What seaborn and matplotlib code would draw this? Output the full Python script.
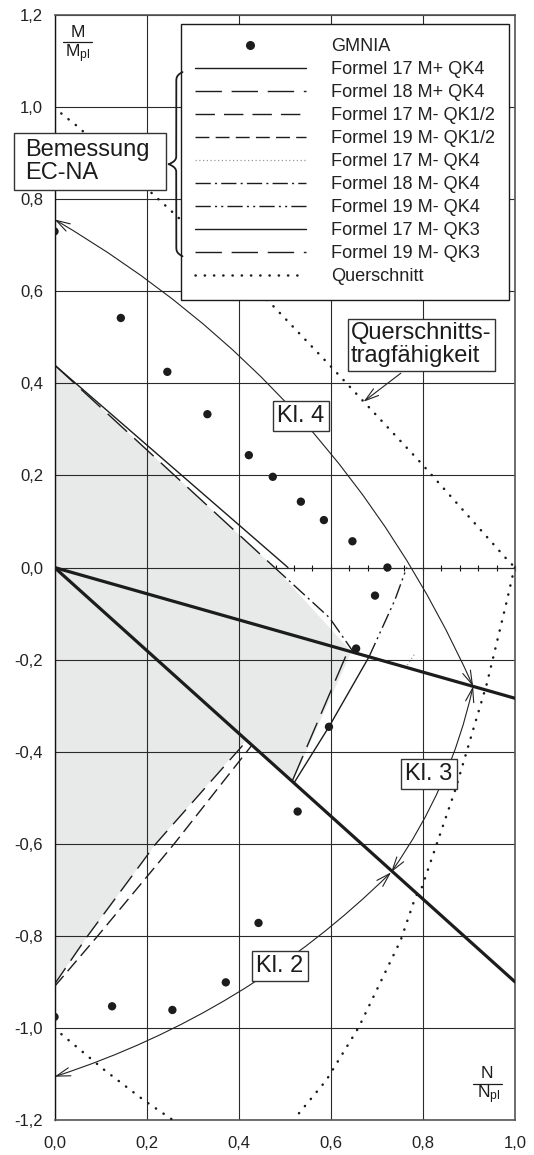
import numpy as np
import matplotlib
matplotlib.use("Agg")
import matplotlib.pyplot as plt
from matplotlib.lines import Line2D
from matplotlib.patches import Rectangle
from matplotlib.ticker import MultipleLocator, FixedLocator, FixedFormatter
import seaborn as sns

# ---------------- data ----------------
gmnia_n = [0.0, 0.144, 0.245, 0.332, 0.422, 0.474, 0.535, 0.585, 0.647, 0.723,
           0.696, 0.655, 0.596, 0.528, 0.443, 0.372, 0.256, 0.125, 0.0]
gmnia_m = [0.730, 0.542, 0.425, 0.333, 0.244, 0.197, 0.143, 0.103, 0.057, 0.0,
           -0.061, -0.176, -0.346, -0.530, -0.772, -0.901, -0.961, -0.953, -0.976]

load_n = [0.0, 1.0]
load_a_m = [0.0, -0.90]
load_b_m = [0.0, -0.284]

f17_mp_qk4_n = [0.0, 0.507]
f17_mp_qk4_m = [0.44, 0.0]
f18_mp_qk4_n = [0.0, 0.478]
f18_mp_qk4_m = [0.44, 0.0]
f17_mm_qk12_n = [0.0, 0.072, 0.22, 0.416]
f17_mm_qk12_m = [-0.905, -0.80, -0.60, -0.378]
f19_mm_qk12_n = [0.0, 0.094, 0.26, 0.427]
f19_mm_qk12_m = [-0.91, -0.80, -0.60, -0.388]
f17_mm_qk4_n = [0.766, 0.782]
f17_mm_qk4_m = [-0.212, -0.188]
f18_mm_qk4_n = [0.478, 0.597, 0.650]
f18_mm_qk4_m = [0.0, -0.109, -0.185]
f19_mm_qk4_n = [0.683, 0.739, 0.765]
f19_mm_qk4_m = [-0.194, -0.071, 0.0]
f17_mm_qk3_n = [0.520, 0.596, 0.683]
f17_mm_qk3_m = [-0.468, -0.346, -0.194]
f19_mm_qk3_n = [0.517, 0.637]
f19_mm_qk3_m = [-0.462, -0.182]

q_pos_n = [0.0, 0.016, 0.05, 0.209, 0.242, 0.472, 0.596, 0.795, 0.984, 1.0]
q_pos_m = [1.0, 0.985, 0.958, 0.815, 0.785, 0.571, 0.441, 0.228, 0.016, 0.0]
q_negr_n = [1.0, 0.996, 0.981, 0.939, 0.870, 0.798, 0.784, 0.752, 0.661, 0.590, 0.527, 0.520]
q_negr_m = [0.0, -0.013, -0.078, -0.252, -0.484, -0.694, -0.715, -0.809, -0.998, -1.114, -1.190, -1.200]
q_negl_n = [0.0, 0.013, 0.109, 0.194, 0.257]
q_negl_m = [-1.0, -1.012, -1.092, -1.157, -1.200]

design_area_n = [0.0, 0.478, 0.645, 0.517, 0.416, 0.22, 0.072, 0.0]
design_area_m = [0.44, 0.0, -0.183, -0.465, -0.375, -0.60, -0.80, -0.905]

x_ticks = [0.0, 0.2, 0.4, 0.6, 0.8, 1.0]
x_tick_labels = ["0,0", "0,2", "0,4", "0,6", "0,8", "1,0"]
y_ticks = [1.2, 1.0, 0.8, 0.6, 0.4, 0.2, 0.0, -0.2, -0.4, -0.6, -0.8, -1.0, -1.2]
y_tick_labels = ["1,2", "1,0", "0,8", "0,6", "0,4", "0,2", "0,0",
                 "-0,2", "-0,4", "-0,6", "-0,8", "-1,0", "-1,2"]

legend_labels = ["GMNIA", "Formel 17 M+ QK4", "Formel 18 M+ QK4", "Formel 17 M- QK1/2",
                 "Formel 19 M- QK1/2", "Formel 17 M- QK4", "Formel 18 M- QK4",
                 "Formel 19 M- QK4", "Formel 17 M- QK3", "Formel 19 M- QK3", "Querschnitt"]

# annotation anchors (data coords)
star_k4k3 = (0.909, -0.258)
star_k3k2 = (0.731, -0.662)
kl4_end = (0.0, 0.756)
kl2_end = (0.0, -1.106)

# ---------------- style ----------------
sns.set_style("white")
plt.rcParams["font.family"] = ["Liberation Sans", "DejaVu Sans"]
plt.rcParams["mathtext.default"] = "regular"

DARK = "#1c1c1c"
fig = plt.figure(figsize=(5.34, 11.55), dpi=100)
ax = fig.add_axes([0.1021, 0.0303, 0.8623, 0.9567])
ax.set_xlim(0, 1.0)
ax.set_ylim(-1.2, 1.2)

# design area
ax.fill(design_area_n, design_area_m, color="#e8e9e9", zorder=0.3, lw=0)

# grid
ax.set_axisbelow(True)
ax.grid(True, which="major", color="#2a2a2a", lw=0.8)

def line(n, m, **kw):
    sns.lineplot(x=n, y=m, sort=False, estimator=None, ax=ax, legend=False, **kw)
    return ax.lines[-1]

# load paths (thick)
line(load_n, load_a_m, color=DARK, lw=2.3, zorder=4)
line(load_n, load_b_m, color=DARK, lw=2.3, zorder=4)

handles = []
handles.append(Line2D([], [], ls="none", marker="o", ms=6.5, color=DARK, mec="none"))
handles.append(line(f17_mp_qk4_n, f17_mp_qk4_m, color=DARK, lw=1.0, zorder=3))
handles.append(line(f18_mp_qk4_n, f18_mp_qk4_m, color=DARK, lw=1.0, ls=(0, (19, 7)), zorder=3))
handles.append(line(f17_mm_qk12_n, f17_mm_qk12_m, color=DARK, lw=1.0, ls=(0, (14, 6.5)), zorder=3))
handles.append(line(f19_mm_qk12_n, f19_mm_qk12_m, color=DARK, lw=1.0, ls=(0, (10, 4.5)), zorder=3))
handles.append(line(f17_mm_qk4_n, f17_mm_qk4_m, color="#9a9a9a", lw=0.9, ls=(0, (1, 2)), zorder=3))
handles.append(line(f18_mm_qk4_n, f18_mm_qk4_m, color=DARK, lw=1.0, ls=(0, (11, 3, 1.5, 3)), zorder=3))
handles.append(line(f19_mm_qk4_n, f19_mm_qk4_m, color=DARK, lw=1.0, ls=(0, (11, 3, 1.5, 3, 1.5, 3)), zorder=3))
handles.append(line(f17_mm_qk3_n, f17_mm_qk3_m, color=DARK, lw=1.0, zorder=3))
handles.append(line(f19_mm_qk3_n, f19_mm_qk3_m, color=DARK, lw=1.0, ls=(0, (19, 7)), zorder=3))
qh = line(q_pos_n, q_pos_m, color=DARK, lw=1.8, ls=(0, (0.1, 3.6)), dash_capstyle="round", zorder=3)
line(q_negr_n, q_negr_m, color=DARK, lw=1.8, ls=(0, (0.1, 3.6)), dash_capstyle="round", zorder=3)
line(q_negl_n, q_negl_m, color=DARK, lw=1.8, ls=(0, (0.1, 3.6)), dash_capstyle="round", zorder=3)
handles.append(qh)

# GMNIA points
sns.scatterplot(x=gmnia_n, y=gmnia_m, ax=ax, s=36, color=DARK, edgecolor="none",
                legend=False, zorder=5)

# ---------------- axes decoration ----------------
ax.xaxis.set_major_locator(FixedLocator(x_ticks))
ax.xaxis.set_major_formatter(FixedFormatter(x_tick_labels))
ax.yaxis.set_major_locator(FixedLocator(y_ticks))
ax.yaxis.set_major_formatter(FixedFormatter(y_tick_labels))
ax.yaxis.set_minor_locator(MultipleLocator(0.04))
ax.tick_params(axis="x", which="major", direction="out", length=2.5, width=0.8,
               color="#2a2a2a", pad=9, labelsize=12, labelcolor="#222222")
ax.tick_params(axis="y", which="both", direction="inout", length=6.5, width=0.8,
               color="#222222", pad=5, labelsize=12, labelcolor="#222222")
for s in ["top", "right", "bottom"]:
    ax.spines[s].set_color("#555555")
    ax.spines[s].set_linewidth(1.2)
ax.spines["left"].set_color("#111111")
ax.spines["left"].set_linewidth(1.0)

sec = ax.secondary_xaxis(0.5)
sec.set_xticks(list(np.arange(0, 1.0001, 0.04)), labels=[""] * 26)
sec.tick_params(direction="inout", length=5, width=0.8, color="#111111")
sec.spines["bottom"].set_color("#111111")
sec.spines["bottom"].set_linewidth(1.1)

# fraction labels
ax.text(0.05, 1.162, "M", ha="center", va="center", fontsize=12.5, color=DARK)
ax.plot([0.019, 0.081], [1.141, 1.141], color=DARK, lw=0.9, clip_on=False)
ax.text(0.05, 1.117, "M$_{pl}$", ha="center", va="center", fontsize=12.5, color=DARK)
ax.text(0.94, -1.0995, "N", ha="center", va="center", fontsize=12.5, color=DARK)
ax.plot([0.909, 0.971], [-1.122, -1.122], color=DARK, lw=0.9)
ax.text(0.942, -1.1447, "N$_{pl}$", ha="center", va="center", fontsize=12.5, color=DARK)

# ---------------- legend ----------------
leg = ax.legend(handles, legend_labels, loc="upper right", bbox_to_anchor=(0.987, 0.9917),
                bbox_transform=ax.transAxes, borderaxespad=0, fontsize=13.1,
                frameon=True, fancybox=False, edgecolor="#1a1a1a", framealpha=1,
                handlelength=6.1, handletextpad=1.37, labelspacing=0.33, borderpad=0.78)
leg.get_frame().set_linewidth(1.0)
for t in leg.get_texts():
    t.set_color("#222222")
leg.set_zorder(10)

# ---------------- annotations ----------------
box = dict(boxstyle="square,pad=0.18", fc="white", ec="#333333", lw=1.0)
akw = dict(color="#222222", lw=0.8, shrinkA=0, shrinkB=0)
ax.annotate("", xy=kl4_end, xytext=star_k4k3,
            arrowprops=dict(arrowstyle="<->,head_length=1.0,head_width=0.3",
                            connectionstyle="arc3,rad=0.16", **akw), zorder=6)
ax.annotate("", xy=star_k3k2, xytext=star_k4k3,
            arrowprops=dict(arrowstyle="<->,head_length=1.0,head_width=0.3",
                            connectionstyle="arc3,rad=-0.1", **akw), zorder=6)
ax.annotate("", xy=kl2_end, xytext=star_k3k2,
            arrowprops=dict(arrowstyle="<->,head_length=1.0,head_width=0.3",
                            connectionstyle="arc3,rad=-0.117", **akw), zorder=6)
ax.annotate("", xy=(0.671, 0.36), xytext=(0.752, 0.422),
            arrowprops=dict(arrowstyle="->,head_length=1.0,head_width=0.3", **akw), zorder=6)

ax.text(0.535, 0.329, "Kl. 4", ha="center", va="center", fontsize=17, color=DARK, bbox=box, zorder=8)
ax.text(0.813, -0.449, "Kl. 3", ha="center", va="center", fontsize=17, color=DARK, bbox=box, zorder=8)
ax.text(0.489, -0.865, "Kl. 2", ha="center", va="center", fontsize=17, color=DARK, bbox=box, zorder=8)
ax.text(0.644, 0.484, "Querschnitts-\ntragfähigkeit", ha="left", va="center", fontsize=17,
        color=DARK, linespacing=1.05,
        bbox=dict(boxstyle="square,pad=0.15", fc="white", ec="#333333", lw=1.0), zorder=8)

# Bemessung box (frame drawn separately for asymmetric padding)
ax.add_patch(Rectangle((-0.0887, 0.821), 0.330, 0.122, fc="white", ec="#333333", lw=1.0,
                       clip_on=False, zorder=8))
ax.text(-0.064, 0.881, "Bemessung\nEC-NA", ha="left", va="center", fontsize=17,
        color=DARK, linespacing=1.05, clip_on=False, zorder=8.5)

# curly brace (decoration) between Bemessung box and legend
yt, yb, ym = 1.076, 0.676, 0.876
xt, xe = 0.248, 0.278
xm = xt + 0.55 * (xe - xt)
s = np.linspace(0, 1, 60)

def half(y_from, y_to):
    d = y_to - y_from
    p1 = np.column_stack([xm + (xe - xm) * (1 - s) ** 3, y_from + 0.10 * d * s])
    p2 = np.column_stack([np.full_like(s, xm), y_from + 0.10 * d + 0.80 * d * s])
    p3 = np.column_stack([xm - (xm - xt) * s ** 3, y_from + 0.90 * d + 0.10 * d * s])
    return np.vstack([p1, p2, p3])

for hv in (half(yt, ym), half(yb, ym)):
    ax.plot(hv[:, 0], hv[:, 1], color=DARK, lw=1.3, zorder=11, solid_capstyle="round")

fig.savefig("out.png", dpi=100)
